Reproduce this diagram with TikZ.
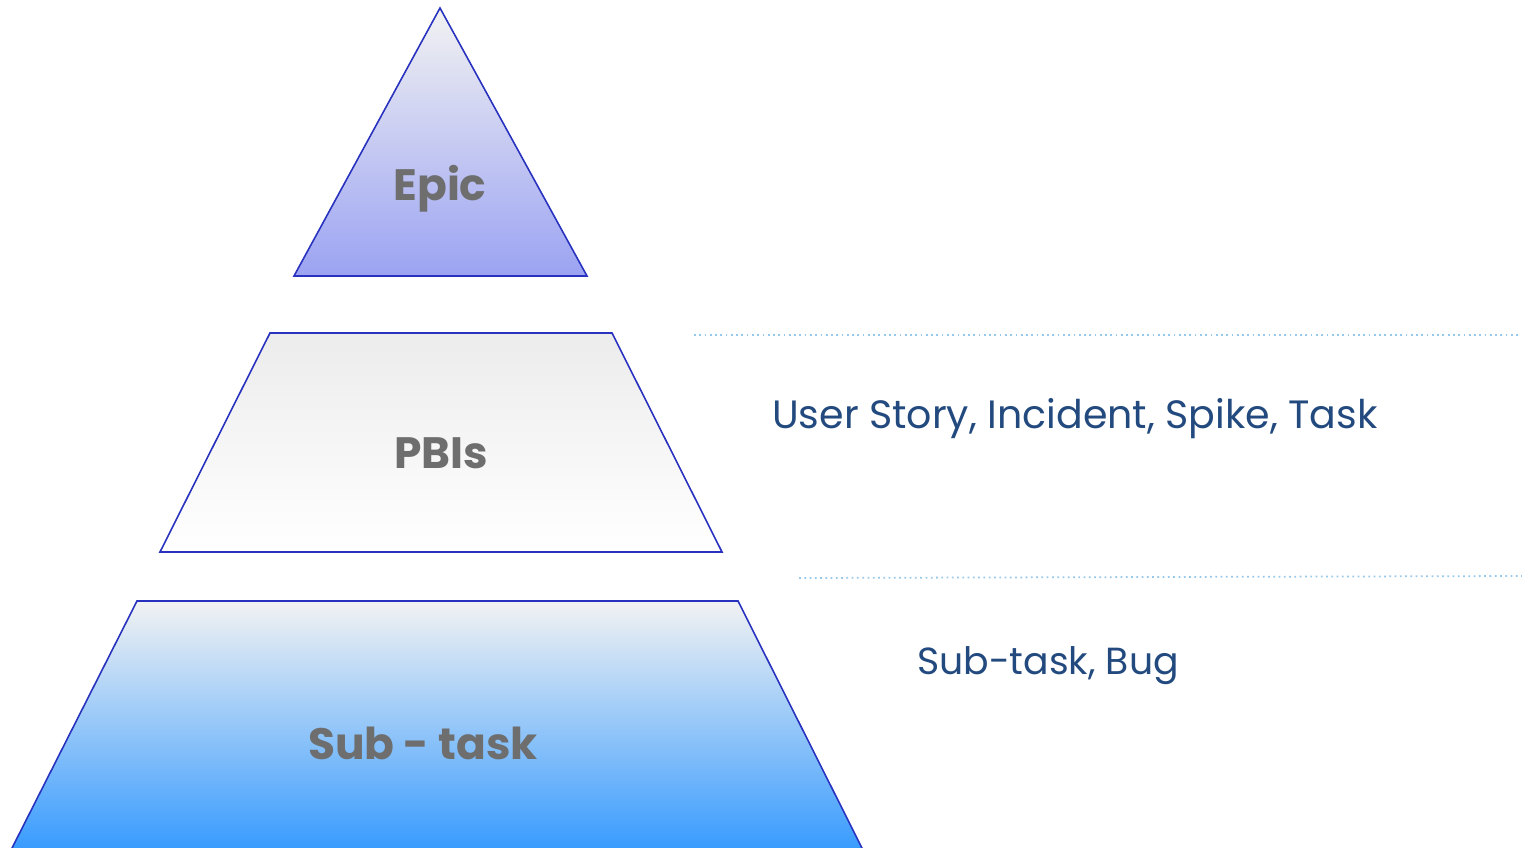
\documentclass[tikz,border=0pt]{standalone}
\usepackage{fontspec}
\setmainfont{Poppins}
\usepackage{tikz}
\usetikzlibrary{calc}

\definecolor{edgeblue}{RGB}{40,50,190}
\definecolor{labelgray}{RGB}{110,110,110}
\definecolor{textblue}{RGB}{35,74,126}
\definecolor{sepblue}{RGB}{150,200,235}
\definecolor{epicbot}{RGB}{155,163,242}
\definecolor{subbot}{RGB}{51,153,255}

\tikzset{
  level/.style={draw=edgeblue, line width=0.9pt},
  levellabel/.style={text=labelgray, font=\fontsize{25}{25}\selectfont\bfseries},
  sidetext/.style={text=textblue, font=\fontsize{22.5}{22.5}\selectfont, anchor=west},
  sepline/.style={sepblue, line width=1pt, dotted}
}

\begin{document}
\begin{tikzpicture}[x=0.02cm, y=-0.02cm]
		
		% 0. Marco de la imagen
		\useasboundingbox (0,0) rectangle (1522,848);
		
		% 1. Niveles de la piramide
		\path[level, top color=gray!10, bottom color=epicbot]
		(440,8) -- (587,276) -- (294,276) -- cycle;
		\path[level, top color=gray!15, bottom color=white]
		(270,333) -- (612,333) -- (722,552) -- (160,552) -- cycle;
		\path[level, top color=gray!10, bottom color=subbot]
		(137,601) -- (738,601) -- (866,856) -- (8,856) -- cycle;
		
		% 2. Etiquetas de cada nivel
		\node[levellabel] (epic) at (440,189) {Epic};
		\node[levellabel] (pbis) at (441,453) {PBIs};
		\node[levellabel] (subtask) at (423,743) {Sub - task};
		
		% 3. Separadores punteados
		\coordinate (sepA) at (694,335);
		\coordinate (sepAend) at (1522,335);
		\coordinate (sepB) at (799,578);
		\coordinate (sepBend) at (1522,576);
		\draw[sepline] (sepA) -- (sepAend);
		\draw[sepline] (sepB) -- (sepBend);
		
		% 4. Tipos de elementos
		\node[sidetext] (pbitypes) at (766,419) {User Story, Incident, Spike, Task};
		\node[sidetext, font=\fontsize{21.5}{21.5}\selectfont] (subtypes) at (911,666) {Sub-task, Bug};
		
	\end{tikzpicture}
\end{document}
